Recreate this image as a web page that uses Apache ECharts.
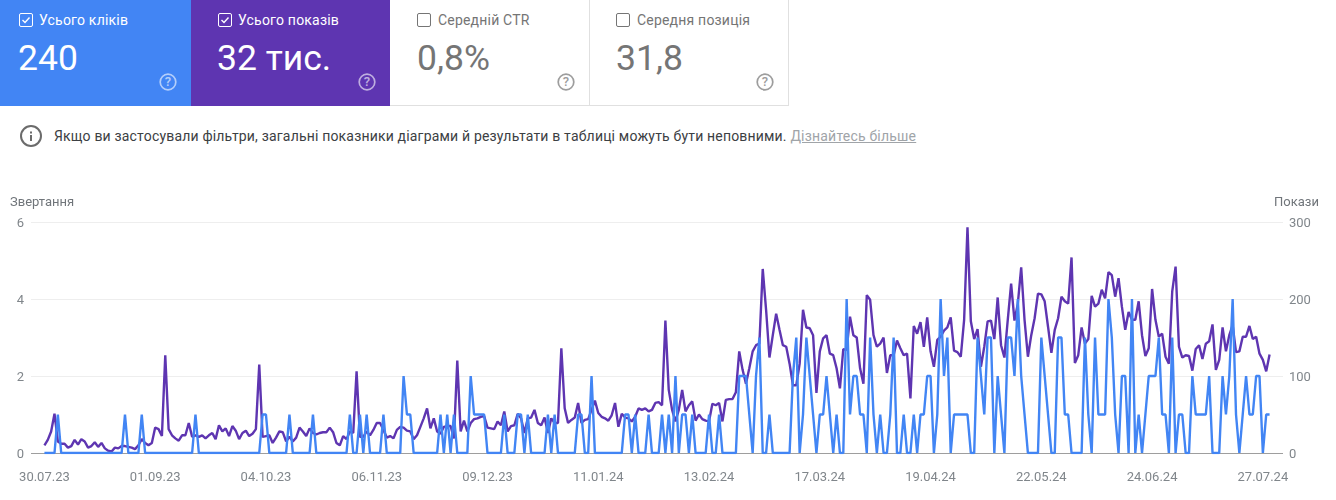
<!DOCTYPE html>
<html lang="uk">
<head>
<meta charset="utf-8">
<title>Ефективність</title>
<script src="https://cdn.jsdelivr.net/npm/echarts@6/dist/echarts.min.js"></script>
<style>
html, body { margin: 0; padding: 0; background: #fff; width: 1336px; height: 500px; overflow: hidden; font-family: Roboto, sans-serif; }
.card { position: absolute; top: 0; height: 105px; box-sizing: content-box; }
.card.off { border-bottom: 1px solid #e0e0e0; border-right: 1px solid #e0e0e0; color: #757575; height: 105px; }
.card.on { height: 106px; color: #fff; }
.box { position: absolute; top: 13px; width: 12px; height: 12px; border: 1px solid currentColor; border-radius: 2px; }
.box svg { position: absolute; left: 0; top: 0; }
.label { position: absolute; top: 12px; font-size: 14px; line-height: 16px; letter-spacing: .2px; white-space: nowrap; }
.value { position: absolute; top: 38px; font-size: 35.5px; line-height: 40px; white-space: nowrap; }
.help { position: absolute; top: 73px; width: 18px; height: 18px; opacity: .6; }
.card.off .help { opacity: .7; }
#note { position: absolute; left: 54px; top: 127px; font-size: 14px; line-height: 18px; letter-spacing: .18px; color: #3c4043; white-space: nowrap; }
#note a { color: #a0a4a8; text-decoration: underline; letter-spacing: .2px; }
#info { position: absolute; left: 20px; top: 125px; }
#chart { position: absolute; left: 0; top: 190px; width: 1336px; height: 310px; }
</style>
</head>
<body>
<div class="card on" style="left:0;width:191px;background:#4285f4">
  <span class="box" style="left:19px"><svg width="12" height="12" viewBox="0 0 12 12"><path d="M2.5 6l2.5 2.5 4.5-5" fill="none" stroke="#fff" stroke-width="1.4"/></svg></span>
  <span class="label" style="left:39px">Усього кліків</span>
  <span class="value" style="left:18px">240</span>
  <svg class="help" style="left:159px" viewBox="0 0 18 18"><circle cx="9" cy="9" r="7.8" fill="none" stroke="#fff" stroke-width="1.7"/><text x="9" y="13.3" text-anchor="middle" font-size="13" font-weight="500" fill="#fff">?</text></svg>
</div>
<div class="card on" style="left:191px;width:199px;background:#5e35b1">
  <span class="box" style="left:27px"><svg width="12" height="12" viewBox="0 0 12 12"><path d="M2.5 6l2.5 2.5 4.5-5" fill="none" stroke="#fff" stroke-width="1.4"/></svg></span>
  <span class="label" style="left:47px">Усього показів</span>
  <span class="value" style="left:26px">32 тис.</span>
  <svg class="help" style="left:167px" viewBox="0 0 18 18"><circle cx="9" cy="9" r="7.8" fill="none" stroke="#fff" stroke-width="1.7"/><text x="9" y="13.3" text-anchor="middle" font-size="13" font-weight="500" fill="#fff">?</text></svg>
</div>
<div class="card off" style="left:390px;width:199px">
  <span class="box" style="left:27px"></span>
  <span class="label" style="left:48px">Середній CTR</span>
  <span class="value" style="left:27px">0,8%</span>
  <svg class="help" style="left:167px" viewBox="0 0 18 18"><circle cx="9" cy="9" r="7.8" fill="none" stroke="#757575" stroke-width="1.7"/><text x="9" y="13.3" text-anchor="middle" font-size="13" font-weight="500" fill="#757575">?</text></svg>
</div>
<div class="card off" style="left:589px;width:199px">
  <span class="box" style="left:27px"></span>
  <span class="label" style="left:48px">Середня позиція</span>
  <span class="value" style="left:27px">31,8</span>
  <svg class="help" style="left:167px" viewBox="0 0 18 18"><circle cx="9" cy="9" r="7.8" fill="none" stroke="#757575" stroke-width="1.7"/><text x="9" y="13.3" text-anchor="middle" font-size="13" font-weight="500" fill="#757575">?</text></svg>
</div>
<svg id="info" width="22" height="22" viewBox="0 0 22 22"><circle cx="11" cy="11" r="10" fill="none" stroke="#6b6b6b" stroke-width="2"/><rect x="10" y="10" width="2" height="6" fill="#6b6b6b"/><rect x="10" y="6.5" width="2" height="2" fill="#6b6b6b"/></svg>
<div id="note">Якщо ви застосували фільтри, загальні показники діаграми й результати в таблиці можуть бути неповними. <a>Дізнайтесь більше</a></div>
<div id="chart"></div>
<script>
// one value per day, 30.07.23 - 29.07.24
const clicks = [
  0,0,0,0,1,0,0,0,0,0, 0,0,0,0,0,0,0,0,0,0, 0,0,0,0,1,0,0,0,0,1, 0,0,0,0,0,0,0,0,0,0,
  0,0,0,0,0,1,0,0,0,0, 0,0,0,0,0,0,0,0,0,0, 0,0,0,0,0,1,1,0,0,0, 0,0,0,1,0,0,0,0,0,0,
  1,0,0,0,0,0,0,0,0,0, 0,1,0,0,1,0,1,0,0,0, 0,1,0,0,0,0,0,2,1,1, 0,0,0,0,0,0,0,0,1,0,
  1,0,1,0,0,0,0,2,1,1, 1,1,0,0,0,0,0,1,0,0, 0,1,1,0,1,0,0,0,0,0, 1,0,1,0,0,0,0,0,0,1,
  1,0,0,2,0,0,0,0,0,0, 0,0,0,1,1,0,1,0,0,0, 1,0,0,0,1,0,1,0,2,0, 1,1,0,1,0,0,0,0,1,0,
  0,1,0,0,0,0,0,2,2,2, 1,0,2,3,0,0,1,0,0,0, 0,0,0,2,3,0,1,3,2,1, 0,1,1,2,1,0,1,0,0,4,
  1,2,2,1,1,0,3,1,0,1, 0,0,1,3,0,0,1,0,0,1, 0,1,1,2,2,0,1,4,2,3, 0,1,1,1,1,1,0,0,3,2,
  1,3,3,0,2,1,0,3,3,2, 4,2,1,0,0,0,0,3,2,1, 0,0,3,3,1,1,0,0,0,0, 3,1,0,3,1,1,1,4,3,1,
  0,2,2,0,4,0,1,0,1,2, 2,2,3,1,1,0,3,0,1,1, 0,0,2,1,1,1,1,2,0,0, 0,2,1,2,4,1,0,1,2,1,
  1,2,2,0,1,1
]
const impressions = [
  10,17,28,51,15,12,12,7,9,17, 11,18,15,7,9,14,8,13,6,3, 2,7,6,9,9,8,7,5,10,18,
  13,10,13,33,31,22,127,31,23,19, 16,23,23,39,21,23,21,23,19,23, 26,18,36,28,32,22,35,29,18,26,
  29,22,25,31,115,21,22,23,13,20, 28,27,15,21,15,20,33,28,22,32, 26,24,26,27,27,33,27,13,10,22,
  18,28,26,106,21,21,28,23,30,39, 39,30,20,22,19,30,34,33,29,28, 18,23,34,45,58,32,45,28,25,34,
  35,35,19,120,28,42,28,39,44,45, 47,48,33,32,31,41,36,54,28,35, 36,51,45,26,45,46,56,39,36,46,
  26,45,39,39,136,58,39,43,46,65, 39,43,44,56,68,52,47,45,42,49, 65,34,51,46,45,41,47,58,56,58,
  54,56,65,66,62,172,82,56,41,56, 82,54,62,67,42,50,44,42,41,64, 62,65,41,69,70,70,79,132,108,90,
  110,132,140,142,239,186,124,153,181,160, 140,138,116,88,88,116,186,163,162,153, 78,132,149,153,129,127,110,84,135,134,
  177,153,150,110,90,205,199,153,138,142, 150,104,127,127,146,136,127,129,71,165, 155,170,138,176,132,112,147,151,159,163,
  176,133,131,125,173,293,171,148,161,112, 138,171,172,148,202,140,124,173,220,172, 194,241,173,125,153,175,207,206,197,164,
  130,160,175,203,197,194,254,117,127,163, 142,148,204,190,194,212,201,235,231,203, 227,190,160,183,173,173,197,153,126,136,
  213,173,151,155,125,116,210,242,138,124, 127,126,107,135,140,122,142,145,167,108, 121,163,132,153,166,131,132,151,151,165,
  148,151,129,121,106,128
]
const dateLabels = ['30.07.23', '01.09.23', '04.10.23', '06.11.23', '09.12.23', '11.01.24',
  '13.02.24', '17.03.24', '19.04.24', '22.05.24', '24.06.24', '27.07.24']
const labelStep = 33

const chart = echarts.init(document.getElementById('chart'))
const textColor = '#80868b'

chart.setOption({
    animation: false,
    textStyle: { fontFamily: 'Roboto' },
    grid: { left: 31, right: 53, top: 32, bottom: 47 },
    graphic: [
        { type: 'text', left: 10, top: 6, style: { text: 'Звертання', fill: '#70757a', font: '13px Roboto' } },
        { type: 'text', left: 1274, top: 6, style: { text: 'Покази', fill: '#70757a', font: '13px Roboto' } },
    ],
    xAxis: {
        type: 'value',
        min: -4,
        max: 369,
        splitLine: { show: false },
        axisTick: { show: false },
        axisLine: { show: false },
        axisLabel: {
            customValues: dateLabels.map((d, i) => i * labelStep),
            formatter: v => dateLabels[v / labelStep],
            color: textColor,
            fontSize: 13,
            margin: 18,
            hideOverlap: false,
        },
    },
    yAxis: [{
        type: 'value',
        min: 0,
        max: 6,
        interval: 2,
        axisLine: { show: false },
        axisTick: { show: false },
        axisLabel: { color: textColor, fontSize: 13, margin: 7, verticalAlign: 'top', lineHeight: 3 },
        splitLine: { lineStyle: { color: '#eeeeee', width: 1 } },
    }, {
        type: 'value',
        min: 0,
        max: 300,
        interval: 100,
        axisLine: { show: false },
        axisTick: { show: false },
        axisLabel: { color: textColor, fontSize: 13, margin: 6, verticalAlign: 'top', lineHeight: 3 },
        splitLine: { show: false },
    }],
    series: [{
        name: 'Покази',
        type: 'line',
        yAxisIndex: 1,
        data: impressions.map((v, i) => [i, v]),
        symbol: 'none',
        lineStyle: { color: '#5e35b1', width: 2.4 },
        z: 3,
    }, {
        name: 'Звертання',
        type: 'line',
        yAxisIndex: 0,
        data: clicks.map((v, i) => [i, v]),
        symbol: 'none',
        lineStyle: { color: '#4285f4', width: 2.4 },
        markLine: {
            silent: true,
            symbol: 'none',
            label: { show: false },
            lineStyle: { color: '#9e9e9e', width: 1, type: 'solid' },
            data: [{ yAxis: 0 }],
            z: 1,
        },
        z: 4,
    }],
})
</script>
</body>
</html>
